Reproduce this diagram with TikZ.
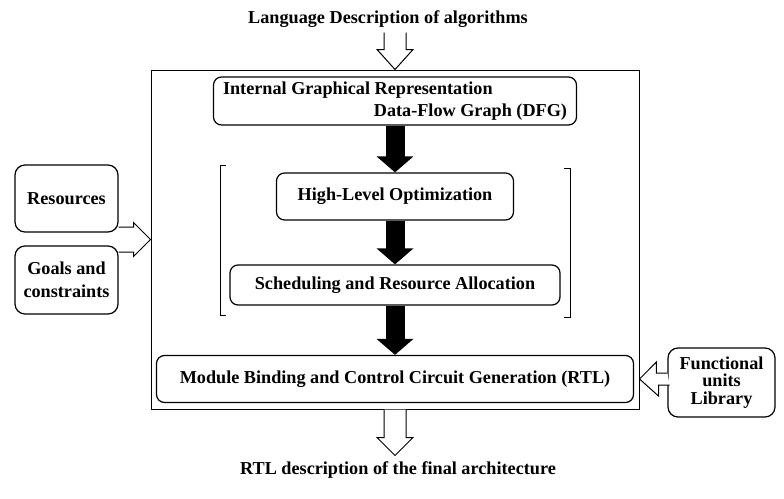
\documentclass[tikz,border=0pt]{standalone}
\usepackage{fontspec}
\setmainfont{Liberation Serif}
\usetikzlibrary{arrows.meta,calc,positioning}
\tikzset{
  hsbox/.style={draw, line width=1.2pt, rounded corners=8pt, align=center, inner sep=4pt},
  hsside/.style={hsbox, rounded corners=10pt, minimum width=103pt},
  hsframe/.style={draw, line width=1pt, minimum width=488pt, minimum height=339pt},
  hsfat/.style={line width=19pt, -{Triangle[width=36pt,length=16pt]}},
  hsopen/.style={draw, line width=1pt, fill=white, line join=miter},
  hsbracket/.style={line width=1pt}
}

\begin{document}
\begin{tikzpicture}[x=1pt, y=-1pt, font=\fontsize{18.2}{22}\selectfont\bfseries]
  \useasboundingbox (0,0) rectangle (784,498);
  \node[anchor=base] (lang) at (388,23) {Language Description of algorithms};
  \node[hsframe] (core) at (395,239.5) {};
  \node[hsbox, minimum width=363pt, minimum height=48pt] (dfg) at (395,101)
    {\makebox[344pt][l]{Internal Graphical Representation}\\
     \makebox[344pt][r]{Data-Flow Graph (DFG)}};
  \node[hsbox, minimum width=237pt, minimum height=47pt] (hlo) at (395,196.5) {High-Level Optimization};
  \node[hsbox, minimum width=330pt, minimum height=40pt] (sched) at (395,285) {Scheduling and Resource Allocation};
  \node[hsbox, minimum width=477pt, minimum height=47pt] (bind) at (395,379)
    {Module Binding and Control Circuit Generation (RTL)};
  \node[hsside, minimum height=67pt] (res) at (66.5,198.5) {Resources};
  \node[hsside, minimum height=68pt, font=\fontsize{18.2}{23}\selectfont\bfseries] (goals) at (66.5,280)
    {Goals and\\constraints};
  \node[hsside, minimum width=107pt, minimum height=69pt, font=\fontsize{18.2}{17.5}\selectfont\bfseries]
    (lib) at (721.5,382.5) {Functional\\units\\Library};
  \node[anchor=base] (rtl) at (398,474) {RTL description of the final architecture};
  % flow inside the frame
  \draw[hsfat] (dfg) -- (hlo);
  \draw[hsfat] (hlo) -- (sched);
  \draw[hsfat] (sched) -- (bind);
  \draw[hsbracket] (226,165) -- (220,165) -- (220,315) -- (226,315);
  \draw[hsbracket] (564,168) -- (570,168) -- (570,317) -- (564,317);
  % open arrows in and out
  \draw[hsopen] (core.north) ++(-11,-37) -- ++(0,17) -- ++(-7,0) -- (core.north)
    -- ++(18,-20) -- ++(-7,0) -- ++(0,-17);
  \draw[hsopen] (core.south) ++(-11,0) -- ++(0,28) -- ++(-7,0) -- ++(18,18)
    -- ++(18,-18) -- ++(-7,0) -- ++(0,-28);
  \coordinate (inl) at (core.west |- 0,239.5);
  \draw[hsopen] (inl) ++(-32,-12.5) -- ++(15,0) -- ++(0,-4.5) -- (inl)
    -- ++(-17,17) -- ++(0,-4.5) -- ++(-15,0);
  \coordinate (inr) at (core.east |- bind.east);
  \draw[hsopen] (lib.west |- inr) ++(0,-6) -- ++(-11,0) -- ++(0,-11) -- (inr)
    -- ++(19,17) -- ++(0,-11) -- ++(11,0);
\end{tikzpicture}
\end{document}
